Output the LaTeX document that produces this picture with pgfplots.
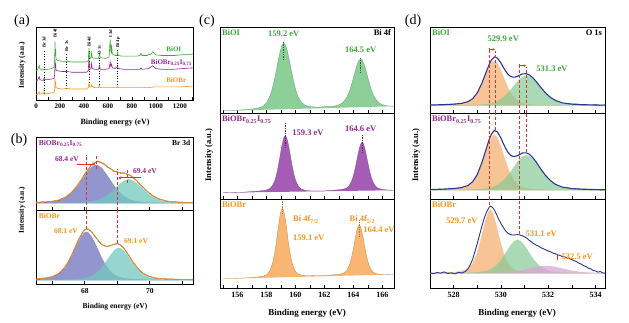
\documentclass[border=0pt]{standalone}
\usepackage{pgfplots}
\pgfplotsset{compat=1.18}
\usepackage{fontspec}
\setmainfont{Liberation Serif}
\usetikzlibrary{arrows.meta}
\definecolor{cgreen}{HTML}{3AAA35}
\definecolor{cpurple}{HTML}{92278F}
\definecolor{corange}{HTML}{F7941D}
\definecolor{gfill}{HTML}{8CCF98}
\definecolor{pfill}{HTML}{A45CB4}
\definecolor{ofill}{HTML}{F9B672}
\definecolor{bblue}{HTML}{6E72BD}
\definecolor{bteal}{HTML}{72C9BF}
\definecolor{dorange}{HTML}{F5B57A}
\definecolor{dgreen}{HTML}{86C995}
\definecolor{dpink}{HTML}{D9A5D8}
\definecolor{navy}{HTML}{2B3590}
\definecolor{cred}{HTML}{E8302A}
\definecolor{benv}{HTML}{E88A2E}
\definecolor{rawteal}{HTML}{3A9A9A}
\newcommand{\fs}[1]{\fontsize{#1}{#1}\selectfont}
\tikzset{rdash/.style={cred, dashed, dash pattern=on 3pt off 2pt, line width=0.8pt}}
\pgfplotsset{
  base/.style={scale only axis, anchor=south west, ymin=0, ymax=1, ytick=\empty,
    axis line style={line width=0.7pt},
    tick align=inside, xtick pos=left,
    major tick length=2.5pt, minor tick length=2.5pt,
    tick style={black, line width=0.6pt},
    /pgf/number format/assume math mode=true,
    /pgf/number format/1000 sep={},
    xticklabel style={font=\bfseries\fs{8}, yshift=-0.5pt}},
  nolab/.style={xticklabels={}},
  cax/.style={base, width=174pt, xmin=154.8, xmax=166.8, xtick={156,158,...,166}, minor xtick={155,157,...,165}},
  dax/.style={base, width=175pt, xmin=527, xmax=534.4, xtick={528,530,532,534}, minor xtick={529,531,533}},
  bax/.style={base, width=157pt, xmin=66.5, xmax=71.33, xtick={68,70}, minor xtick={67,69,71}, xticklabel style={font=\bfseries\fs{7.5}}},
}
\begin{document}
\begin{tikzpicture}

% ---------- panel labels ----------
\node[font=\fs{14}] at (22pt,302pt) {(a)};
\node[font=\fs{14}] at (19pt,183pt) {(b)};
\node[font=\fs{14}] at (207pt,302pt) {(c)};
\node[font=\fs{14}] at (413pt,302pt) {(d)};
\node[rotate=90, font=\bfseries\fs{7.5}] at (22pt,258pt) {Intensity (a.u.)};
\node[rotate=90, font=\bfseries\fs{7.5}] at (22pt,113pt) {Intensity (a.u.)};
\node[rotate=90, font=\bfseries\fs{8.5}] at (209pt,168pt) {Intensity (a.u.)};
\node[rotate=90, font=\bfseries\fs{8.5}] at (416pt,168pt) {Intensity (a.u.)};
\node[font=\bfseries\fs{8}] at (115pt,200pt) {Binding energy (eV)};
\node[font=\bfseries\fs{7.5}] at (115pt,16pt) {Binding energy (eV)};
\node[font=\bfseries\fs{9}] at (307pt,10pt) {Binding energy (eV)};
\node[font=\bfseries\fs{9}] at (517pt,10pt) {Binding energy (eV)};

% ---------- (a) survey ----------
\begin{axis}[base, at={(36pt,223pt)}, width=157pt, height=73pt,
  xmin=0, xmax=1310, xtick={0,200,...,1200}, minor xtick={100,300,...,1300},
  xticklabel style={font=\bfseries\fs{7}}]
\draw[dotted, line width=0.6pt] (axis cs:68,0.09) -- (axis cs:68,0.69);
\draw[dotted, line width=0.6pt] (axis cs:256,0.16) -- (axis cs:256,0.64);
\draw[dotted, line width=0.6pt] (axis cs:442,0.24) -- (axis cs:442,0.68);
\draw[dotted, line width=0.6pt] (axis cs:530,0.18) -- (axis cs:530,0.58);
\draw[dotted, line width=0.6pt] (axis cs:680,0.18) -- (axis cs:680,0.69);
\addplot[corange, line width=0.6pt] coordinates {(0,.07) (12,.08) (22,.10) (27,.11) (32,.08) (62,.09) (68,.12) (74,.09) (100,.09) (140,.10) (152,.11) (156,.15) (159,.29) (161,.20) (164,.25) (167,.17) (180,.16) (220,.15) (256,.16) (300,.15) (360,.15) (420,.15) (436,.17) (442,.24) (447,.18) (458,.18) (464,.21) (469,.18) (490,.17) (522,.17) (530,.20) (536,.17) (600,.17) (676,.17) (680,.19) (686,.17) (760,.17) (840,.17) (940,.17) (1000,.18) (1100,.18) (1200,.18) (1310,.19)};
\addplot[cpurple, line width=0.6pt] coordinates {(0,.26) (12,.27) (22,.30) (27,.32) (32,.28) (50,.27) (62,.27) (68,.30) (74,.28) (100,.28) (140,.29) (152,.30) (156,.36) (159,.55) (161,.44) (164,.50) (167,.41) (180,.40) (220,.39) (260,.39) (300,.38) (360,.38) (420,.38) (436,.40) (442,.58) (447,.44) (458,.43) (464,.50) (469,.43) (490,.42) (522,.42) (530,.47) (536,.42) (580,.42) (610,.43) (619,.52) (624,.46) (631,.49) (637,.44) (660,.43) (680,.46) (686,.43) (740,.42) (800,.42) (868,.42) (876,.44) (884,.42) (940,.43) (972,.47) (985,.45) (1000,.43) (1060,.42) (1140,.42) (1220,.43) (1310,.44)};
\addplot[cgreen, line width=0.6pt] coordinates {(0,.40) (12,.41) (22,.45) (27,.47) (32,.43) (50,.41) (68,.42) (100,.42) (130,.43) (150,.45) (155,.52) (159,.80) (161,.60) (164,.70) (167,.56) (180,.54) (220,.53) (260,.53) (300,.52) (360,.52) (420,.52) (436,.54) (442,.71) (447,.58) (458,.57) (464,.65) (469,.58) (490,.57) (522,.57) (530,.64) (536,.58) (580,.57) (610,.59) (619,.83) (624,.67) (628,.65) (631,.76) (637,.63) (660,.61) (676,.61) (680,.65) (686,.61) (720,.60) (780,.60) (840,.60) (868,.61) (876,.64) (884,.61) (930,.61) (940,.63) (950,.62) (962,.63) (972,.66) (982,.65) (995,.62) (1040,.61) (1100,.61) (1160,.61) (1220,.62) (1270,.62) (1310,.63)};
\node[rotate=90, anchor=west, font=\bfseries\fs{4.5}, inner sep=0.5pt] at (axis cs:68,0.71) {Br 3d};
\node[rotate=90, anchor=west, font=\bfseries\fs{4.5}, inner sep=0.5pt] at (axis cs:159,0.84) {Bi 4f};
\node[rotate=90, anchor=west, font=\bfseries\fs{4.5}, inner sep=0.5pt] at (axis cs:256,0.66) {Br 3s};
\node[rotate=90, anchor=west, font=\bfseries\fs{4.5}, inner sep=0.5pt] at (axis cs:442,0.72) {Bi 4d};
\node[rotate=90, anchor=west, font=\bfseries\fs{4.5}, inner sep=0.5pt] at (axis cs:530,0.62) {O 1s};
\node[rotate=90, anchor=west, font=\bfseries\fs{4.5}, inner sep=0.5pt] at (axis cs:622,0.85) {I 3d};
\node[rotate=90, anchor=west, font=\bfseries\fs{4.5}, inner sep=0.5pt] at (axis cs:684,0.71) {Bi 4p};
\node[font=\bfseries\fs{7}, text=cgreen] at (axis cs:1150,0.70) {BiOI};
\node[font=\bfseries\fs{7}, text=cpurple] at (axis cs:1130,0.51) {BiOBr\textsubscript{0.25}I\textsubscript{0.75}};
\node[font=\bfseries\fs{7}, text=corange] at (axis cs:1170,0.27) {BiOBr};
\end{axis}

% ---------- (b) top ----------
\begin{axis}[bax, nolab, at={(36pt,113pt)}, height=73pt]
\addplot[draw=none, fill=bblue, fill opacity=0.75] coordinates {(66.5,.09) (66.5,.102) (66.8,.107) (67.0,.114) (67.2,.131) (67.4,.166) (67.6,.233) (67.8,.339) (67.9,.405) (68.0,.473) (68.1,.535) (68.2,.588) (68.3,.616) (68.4,.616) (68.5,.588) (68.6,.535) (68.7,.473) (68.8,.405) (68.9,.339) (69.0,.281) (69.1,.233) (69.2,.194) (69.3,.166) (69.4,.145) (69.5,.131) (69.6,.121) (69.7,.114) (69.8,.110) (70.0,.105) (70.2,.102) (70.4,.100) (70.6,.098) (70.8,.097) (71.0,.096) (71.33,.095) (71.33,.09)};
\addplot[draw=none, fill=bteal, fill opacity=0.75] coordinates {(66.5,.09) (66.5,.093) (66.8,.094) (67.0,.095) (67.2,.096) (67.4,.097) (67.6,.098) (67.8,.101) (67.9,.103) (68.0,.105) (68.1,.109) (68.2,.115) (68.3,.124) (68.4,.137) (68.5,.155) (68.6,.179) (68.7,.209) (68.8,.245) (68.9,.286) (69.0,.328) (69.1,.367) (69.2,.400) (69.3,.418) (69.4,.418) (69.5,.400) (69.6,.367) (69.7,.328) (69.8,.286) (70.0,.209) (70.2,.155) (70.4,.124) (70.6,.109) (70.8,.103) (71.0,.099) (71.33,.097) (71.33,.09)};
\addplot[black!75, line width=0.5pt] coordinates {(66.5,.112) (66.6,.098) (66.7,.115) (66.8,.104) (66.9,.121) (67.0,.113) (67.1,.130) (67.2,.129) (67.3,.158) (67.4,.170) (67.5,.205) (67.6,.246) (67.7,.290) (67.8,.356) (67.9,.412) (68.0,.495) (68.1,.548) (68.2,.620) (68.3,.645) (68.4,.672) (68.5,.648) (68.6,.630) (68.7,.585) (68.8,.566) (68.9,.528) (69.0,.524) (69.1,.503) (69.2,.510) (69.3,.488) (69.4,.478) (69.5,.436) (69.6,.404) (69.7,.346) (69.8,.311) (69.9,.262) (70.0,.228) (70.1,.190) (70.2,.170) (70.3,.145) (70.4,.138) (70.5,.120) (70.6,.119) (70.7,.108) (70.8,.113) (70.9,.103) (71.0,.108) (71.1,.099) (71.2,.106) (71.33,.101)};
\addplot[benv, line width=0.9pt] coordinates {(66.5,.105) (66.8,.111) (67.0,.119) (67.2,.137) (67.4,.173) (67.6,.241) (67.8,.350) (67.9,.418) (68.0,.488) (68.1,.554) (68.2,.613) (68.3,.650) (68.4,.663) (68.5,.653) (68.6,.624) (68.7,.592) (68.8,.560) (68.9,.535) (69.0,.519) (69.1,.510) (69.2,.504) (69.3,.494) (69.4,.473) (69.5,.441) (69.6,.398) (69.7,.352) (69.8,.306) (70.0,.224) (70.2,.167) (70.4,.134) (70.6,.117) (70.8,.110) (71.0,.105) (71.33,.102)};
\draw[rdash] (axis cs:68.05,0) -- (axis cs:68.05,0.76);
\draw[rdash] (axis cs:68.35,0.56) -- (axis cs:68.35,0.76);
\draw[rdash] (axis cs:69.0,0) -- (axis cs:69.0,0.56);
\draw[rdash] (axis cs:69.3,0.37) -- (axis cs:69.3,0.57);
\draw[cred, line width=0.8pt, -{Stealth[length=3pt,width=3pt]}] (axis cs:67.75,0.63) -- (axis cs:68.33,0.63);
\draw[cred, line width=0.8pt, -{Stealth[length=3pt,width=3pt]}] (axis cs:69.72,0.44) -- (axis cs:69.03,0.44);
\node[font=\bfseries\fs{7.5}, text=cpurple, anchor=north west, inner sep=1pt] at (rel axis cs:0.01,0.97) {BiOBr\textsubscript{0.25}I\textsubscript{0.75}};
\node[font=\bfseries\fs{7.5}, anchor=north east, inner sep=1pt] at (rel axis cs:0.99,0.97) {Br 3d};
\node[font=\bfseries\fs{7.5}, text=cpurple] at (axis cs:67.45,0.70) {68.4 eV};
\node[font=\bfseries\fs{7.5}, text=cpurple] at (axis cs:69.85,0.53) {69.4 eV};
\end{axis}

% ---------- (b) bottom ----------
\begin{axis}[bax, at={(36pt,39pt)}, height=74pt]
\addplot[draw=none, fill=bblue, fill opacity=0.75] coordinates {(66.5,.05) (66.5,.066) (66.8,.075) (67.0,.092) (67.2,.134) (67.4,.224) (67.5,.294) (67.6,.380) (67.7,.477) (67.8,.573) (67.9,.653) (68.0,.703) (68.1,.703) (68.2,.653) (68.3,.573) (68.4,.477) (68.5,.380) (68.6,.294) (68.7,.224) (68.8,.171) (68.9,.134) (69.0,.108) (69.1,.092) (69.2,.081) (69.3,.075) (69.4,.070) (69.5,.068) (69.6,.066) (69.7,.064) (69.8,.062) (70.0,.060) (70.2,.058) (70.4,.057) (70.7,.056) (71.0,.055) (71.33,.054) (71.33,.05)};
\addplot[draw=none, fill=bteal, fill opacity=0.75] coordinates {(66.5,.05) (66.5,.054) (66.8,.055) (67.0,.056) (67.2,.057) (67.4,.059) (67.5,.061) (67.6,.062) (67.7,.064) (67.8,.067) (67.9,.071) (68.0,.078) (68.1,.089) (68.2,.106) (68.3,.131) (68.4,.166) (68.5,.213) (68.6,.270) (68.7,.335) (68.8,.399) (68.9,.452) (69.0,.486) (69.1,.486) (69.2,.452) (69.3,.399) (69.4,.335) (69.5,.270) (69.6,.213) (69.7,.166) (69.8,.131) (70.0,.089) (70.2,.071) (70.4,.064) (70.7,.059) (71.0,.057) (71.33,.055) (71.33,.05)};
\addplot[black!75, line width=0.5pt] coordinates {(66.5,.074) (66.6,.066) (66.7,.081) (66.8,.078) (66.9,.092) (67.0,.096) (67.1,.122) (67.2,.138) (67.3,.185) (67.4,.236) (67.5,.300) (67.6,.396) (67.7,.487) (67.8,.594) (67.9,.669) (68.0,.735) (68.1,.738) (68.2,.713) (68.3,.650) (68.4,.597) (68.5,.540) (68.6,.518) (68.7,.505) (68.8,.524) (68.9,.533) (69.0,.548) (69.1,.524) (69.2,.487) (69.3,.420) (69.4,.358) (69.5,.284) (69.6,.232) (69.7,.176) (69.8,.146) (69.9,.118) (70.0,.101) (70.2,.076) (70.4,.073) (70.5,.064) (70.7,.067) (70.9,.060) (71.1,.063) (71.33,.058)};
\addplot[benv, line width=0.9pt] coordinates {(66.5,.070) (66.8,.080) (67.0,.098) (67.2,.141) (67.4,.233) (67.5,.305) (67.6,.392) (67.7,.491) (67.8,.590) (67.9,.674) (68.0,.731) (68.1,.742) (68.2,.709) (68.3,.654) (68.4,.593) (68.5,.543) (68.6,.514) (68.7,.509) (68.8,.520) (68.9,.536) (69.0,.544) (69.1,.528) (69.2,.483) (69.3,.424) (69.4,.355) (69.5,.288) (69.6,.229) (69.7,.180) (69.8,.143) (70.0,.099) (70.2,.079) (70.4,.071) (70.7,.065) (71.0,.062) (71.33,.059)};
\draw[rdash] (axis cs:68.05,0.74) -- (axis cs:68.05,1);
\draw[rdash] (axis cs:69.0,0.55) -- (axis cs:69.0,1);
\node[font=\bfseries\fs{7.5}, text=corange, anchor=north west, inner sep=1pt] at (rel axis cs:0.01,0.97) {BiOBr};
\node[font=\bfseries\fs{7.5}, text=corange] at (axis cs:67.42,0.71) {68.1 eV};
\node[font=\bfseries\fs{7.5}, text=corange] at (axis cs:69.58,0.58) {69.1 eV};
\end{axis}

% ---------- (c) top ----------
\begin{axis}[cax, nolab, at={(220pt,210pt)}, height=86pt]
\addplot[fill=gfill, draw=gfill!75!black, line width=0.3pt] coordinates {(155,.025) (156,.033) (156.8,.043) (157.4,.056) (157.76,.078) (158.0,.115) (158.24,.197) (158.36,.257) (158.48,.334) (158.6,.426) (158.72,.528) (158.84,.631) (158.96,.722) (159.08,.787) (159.2,.811) (159.32,.787) (159.44,.722) (159.56,.631) (159.68,.528) (159.8,.426) (159.92,.334) (160.04,.257) (160.16,.197) (160.4,.126) (160.64,.092) (161.0,.074) (161.6,.067) (162.1,.075) (162.7,.080) (163.06,.099) (163.3,.125) (163.54,.181) (163.66,.224) (163.78,.280) (163.9,.347) (164.02,.421) (164.14,.496) (164.26,.563) (164.38,.610) (164.5,.628) (164.62,.610) (164.74,.563) (164.86,.496) (164.98,.421) (165.1,.347) (165.22,.280) (165.34,.224) (165.46,.181) (165.7,.125) (165.94,.099) (166.3,.084) (166.8,.078)};
\draw[densely dotted, line width=0.7pt, cgreen!60!black] (axis cs:159.2,0.62) -- (axis cs:159.2,0.82);
\draw[densely dotted, line width=0.7pt, cgreen!60!black] (axis cs:164.5,0.47) -- (axis cs:164.5,0.64);
\node[font=\bfseries\fs{8.5}, text=cgreen, anchor=north west, inner sep=1pt] at (rel axis cs:0.005,0.98) {BiOI};
\node[font=\bfseries\fs{8.5}, anchor=north east, inner sep=1pt] at (rel axis cs:0.99,0.98) {Bi 4f};
\node[font=\bfseries\fs{8.5}, text=cgreen] at (axis cs:159.2,0.92) {159.2 eV};
\node[font=\bfseries\fs{8.5}, text=cgreen] at (axis cs:164.5,0.74) {164.5 eV};
\end{axis}

% ---------- (c) middle ----------
\begin{axis}[cax, nolab, at={(220pt,124pt)}, height=86pt]
\addplot[fill=pfill, draw=pfill!75!black, line width=0.3pt] coordinates {(155,.073) (156.5,.080) (157.5,.093) (157.95,.101) (158.22,.118) (158.4,.149) (158.58,.214) (158.67,.265) (158.76,.331) (158.85,.409) (158.94,.495) (159.03,.583) (159.12,.661) (159.21,.716) (159.3,.736) (159.39,.716) (159.48,.661) (159.57,.583) (159.66,.495) (159.75,.409) (159.84,.331) (159.93,.265) (160.02,.214) (160.2,.149) (160.38,.118) (160.65,.101) (161.1,.093) (162.0,.094) (162.8,.104) (163.25,.112) (163.52,.126) (163.7,.153) (163.88,.209) (163.97,.253) (164.06,.309) (164.15,.377) (164.24,.451) (164.33,.527) (164.42,.594) (164.51,.641) (164.6,.659) (164.69,.641) (164.78,.594) (164.87,.527) (164.96,.451) (165.05,.377) (165.14,.309) (165.23,.253) (165.32,.209) (165.5,.153) (165.68,.126) (165.95,.112) (166.4,.104) (166.8,.102)};
\draw[densely dotted, line width=0.7pt, cpurple!70!black] (axis cs:159.3,0.60) -- (axis cs:159.3,0.88);
\draw[densely dotted, line width=0.7pt, cpurple!70!black] (axis cs:164.6,0.54) -- (axis cs:164.6,0.74);
\node[font=\bfseries\fs{8.5}, text=cpurple, anchor=north west, inner sep=1pt] at (rel axis cs:0.005,0.98) {BiOBr\textsubscript{0.25}I\textsubscript{0.75}};
\node[font=\bfseries\fs{8.5}, text=cpurple, anchor=west] at (axis cs:159.55,0.77) {159.3 eV};
\node[font=\bfseries\fs{8.5}, text=cpurple] at (axis cs:164.5,0.82) {164.6 eV};
\end{axis}

% ---------- (c) bottom ----------
\begin{axis}[cax, at={(220pt,35pt)}, height=89pt]
\addplot[fill=ofill, draw=ofill!75!black, line width=0.3pt] coordinates {(155,.103) (156.3,.111) (157.4,.124) (157.83,.136) (158.08,.156) (158.25,.198) (158.42,.275) (158.5,.336) (158.59,.414) (158.68,.507) (158.76,.610) (158.85,.714) (158.93,.807) (159.02,.873) (159.1,.897) (159.18,.873) (159.27,.807) (159.36,.714) (159.44,.610) (159.52,.507) (159.61,.414) (159.7,.336) (159.78,.275) (159.95,.198) (160.12,.165) (160.38,.146) (160.8,.138) (162.0,.141) (162.7,.149) (163.13,.157) (163.38,.171) (163.55,.198) (163.72,.255) (163.8,.299) (163.89,.356) (163.98,.424) (164.06,.499) (164.15,.576) (164.23,.643) (164.32,.691) (164.4,.709) (164.49,.691) (164.57,.643) (164.66,.576) (164.74,.499) (164.83,.424) (164.91,.356) (165.0,.299) (165.08,.255) (165.25,.198) (165.42,.171) (165.68,.157) (166.1,.149) (166.8,.152)};
\draw[densely dotted, line width=0.7pt, corange!80!black] (axis cs:159.1,0.84) -- (axis cs:159.1,0.99);
\draw[densely dotted, line width=0.7pt, corange!80!black] (axis cs:164.4,0.58) -- (axis cs:164.4,0.76);
\node[font=\bfseries\fs{8.5}, text=corange, anchor=north west, inner sep=1pt] at (rel axis cs:0.005,0.98) {BiOBr};
\node[font=\bfseries\fs{8.5}, text=corange, anchor=west] at (axis cs:159.6,0.77) {Bi 4f\textsubscript{7/2}};
\node[font=\bfseries\fs{8.5}, text=corange, anchor=west] at (axis cs:159.6,0.56) {159.1 eV};
\node[font=\bfseries\fs{8.5}, text=corange, anchor=west] at (axis cs:163.5,0.77) {Bi 4f\textsubscript{5/2}};
\node[font=\bfseries\fs{8.5}, text=corange, anchor=west] at (axis cs:164.45,0.66) {164.4 eV};
\end{axis}

% ---------- (d) top ----------
\begin{axis}[dax, nolab, at={(430pt,210pt)}, height=86pt]
\addplot[draw=none, fill=dorange, fill opacity=0.8] coordinates {(527.0,.085) (527.0,.090) (527.5,.092) (528.0,.098) (528.3,.104) (528.6,.123) (528.8,.156) (529.0,.224) (529.2,.335) (529.4,.473) (529.5,.537) (529.6,.586) (529.72,.610) (529.85,.582) (530.0,.500) (530.1,.430) (530.2,.361) (530.3,.297) (530.4,.243) (530.5,.199) (530.6,.167) (530.7,.143) (530.8,.128) (530.9,.117) (531.07,.107) (531.2,.102) (531.35,.099) (531.5,.097) (531.7,.094) (531.9,.093) (532.1,.092) (532.3,.091) (532.6,.090) (533.0,.089) (533.5,.088) (534.0,.087) (534.4,.087) (534.4,.085)};
\addplot[draw=none, fill=dgreen, fill opacity=0.7] coordinates {(527.0,.085) (527.0,.088) (527.5,.089) (528.0,.090) (528.3,.091) (528.6,.093) (528.8,.094) (529.0,.096) (529.2,.100) (529.4,.105) (529.5,.110) (529.6,.116) (529.72,.126) (529.85,.141) (530.0,.166) (530.1,.186) (530.2,.210) (530.3,.238) (530.4,.269) (530.5,.303) (530.6,.336) (530.7,.369) (530.8,.397) (530.9,.422) (531.07,.435) (531.2,.426) (531.35,.395) (531.5,.350) (531.7,.283) (531.9,.221) (532.1,.173) (532.3,.140) (532.6,.112) (533.0,.099) (533.5,.093) (534.0,.091) (534.4,.089) (534.4,.085)};
\addplot[rawteal, line width=0.6pt] coordinates {(527.0,.095) (527.2,.089) (527.4,.098) (527.6,.092) (527.8,.100) (528.0,.101) (528.2,.108) (528.4,.111)};
\addplot[rawteal, line width=0.6pt] coordinates {(532.8,.112) (533.0,.101) (533.2,.105) (533.4,.092) (533.6,.100) (533.8,.090) (534.0,.098) (534.2,.088) (534.4,.096)};
\addplot[navy, line width=1.1pt] coordinates {(527.0,.093) (527.5,.096) (528.0,.103) (528.3,.110) (528.6,.131) (528.8,.165) (529.0,.235) (529.2,.350) (529.4,.493) (529.5,.562) (529.6,.617) (529.72,.651) (529.85,.638) (530.0,.581) (530.1,.531) (530.2,.486) (530.3,.450) (530.4,.427) (530.5,.417) (530.6,.418) (530.7,.427) (530.8,.440) (530.9,.454) (531.07,.457) (531.2,.443) (531.35,.409) (531.5,.362) (531.7,.292) (531.9,.229) (532.1,.180) (532.3,.146) (532.6,.117) (533.0,.103) (533.5,.096) (534.0,.093) (534.4,.091)};
\draw[rdash] (axis cs:529.5,0) -- (axis cs:529.5,0.72);
\draw[rdash] (axis cs:529.75,0) -- (axis cs:529.75,0.72);
\draw[rdash] (axis cs:530.76,0) -- (axis cs:530.76,0.53);
\draw[rdash] (axis cs:531.07,0) -- (axis cs:531.07,0.53);
\draw[cred, line width=0.7pt, {Bar[width=3pt]}-{Stealth[length=2.5pt,width=2.5pt]}] (axis cs:529.5,0.74) -- (axis cs:529.75,0.74);
\draw[cred, line width=0.7pt, {Bar[width=3pt]}-{Stealth[length=2.5pt,width=2.5pt]}] (axis cs:530.76,0.55) -- (axis cs:531.07,0.55);
\node[font=\bfseries\fs{8.5}, text=cgreen, anchor=north west, inner sep=1pt] at (rel axis cs:0.005,0.98) {BiOI};
\node[font=\bfseries\fs{8.5}, anchor=north east, inner sep=1pt] at (rel axis cs:0.99,0.98) {O 1s};
\node[font=\bfseries\fs{8.5}, text=cgreen] at (axis cs:530.1,0.86) {529.9 eV};
\node[font=\bfseries\fs{8.5}, text=cgreen, anchor=west] at (axis cs:531.35,0.52) {531.3 eV};
\end{axis}

% ---------- (d) middle ----------
\begin{axis}[dax, nolab, at={(430pt,124pt)}, height=86pt]
\addplot[draw=none, fill=dorange, fill opacity=0.8] coordinates {(527.0,.10) (527.0,.106) (527.5,.109) (528.0,.116) (528.3,.124) (528.6,.147) (528.8,.188) (529.0,.272) (529.2,.410) (529.4,.580) (529.5,.660) (529.6,.720) (529.72,.750) (529.85,.715) (530.0,.614) (530.1,.527) (530.2,.442) (530.3,.362) (530.4,.296) (530.5,.241) (530.6,.202) (530.7,.172) (530.8,.153) (530.9,.140) (531.07,.127) (531.2,.121) (531.35,.117) (531.5,.115) (531.7,.111) (531.9,.110) (532.1,.109) (532.3,.107) (532.6,.106) (533.0,.105) (533.5,.104) (534.0,.102) (534.4,.102) (534.4,.10)};
\addplot[draw=none, fill=dgreen, fill opacity=0.7] coordinates {(527.0,.10) (527.0,.104) (527.5,.105) (528.0,.106) (528.3,.107) (528.6,.109) (528.8,.111) (529.0,.113) (529.2,.118) (529.4,.123) (529.5,.129) (529.6,.136) (529.72,.148) (529.85,.166) (530.0,.195) (530.1,.218) (530.2,.246) (530.3,.279) (530.4,.315) (530.5,.355) (530.6,.394) (530.7,.433) (530.8,.465) (530.9,.495) (531.07,.510) (531.2,.499) (531.35,.463) (531.5,.410) (531.7,.332) (531.9,.259) (532.1,.203) (532.3,.164) (532.6,.132) (533.0,.116) (533.5,.109) (534.0,.107) (534.4,.105) (534.4,.10)};
\addplot[rawteal, line width=0.6pt] coordinates {(527.0,.112) (527.2,.104) (527.4,.115) (527.6,.108) (527.8,.117) (528.0,.118) (528.2,.127) (528.4,.133)};
\addplot[rawteal, line width=0.6pt] coordinates {(532.8,.132) (533.0,.118) (533.2,.122) (533.4,.110) (533.6,.118) (533.8,.106) (534.0,.114) (534.2,.104) (534.4,.112)};
\addplot[navy, line width=1.1pt] coordinates {(527.0,.110) (527.5,.114) (528.0,.122) (528.3,.131) (528.6,.156) (528.8,.199) (529.0,.285) (529.2,.428) (529.4,.603) (529.5,.689) (529.6,.756) (529.72,.798) (529.85,.781) (530.0,.709) (530.1,.645) (530.2,.588) (530.3,.541) (530.4,.511) (530.5,.496) (530.6,.496) (530.7,.505) (530.8,.518) (530.9,.535) (531.07,.537) (531.2,.520) (531.35,.480) (531.5,.425) (531.7,.343) (531.9,.269) (532.1,.212) (532.3,.171) (532.6,.138) (533.0,.121) (533.5,.113) (534.0,.109) (534.4,.107)};
\draw[rdash] (axis cs:529.5,0) -- (axis cs:529.5,1);
\draw[rdash] (axis cs:529.75,0.80) -- (axis cs:529.75,1);
\draw[rdash] (axis cs:530.76,0) -- (axis cs:530.76,1);
\draw[rdash] (axis cs:531.07,0.55) -- (axis cs:531.07,1);
\node[font=\bfseries\fs{8.5}, text=cpurple, anchor=north west, inner sep=1pt] at (rel axis cs:0.005,0.98) {BiOBr\textsubscript{0.25}I\textsubscript{0.75}};
\end{axis}

% ---------- (d) bottom ----------
\begin{axis}[dax, at={(430pt,35pt)}, height=89pt]
\addplot[draw=none, fill=dorange, fill opacity=0.8] coordinates {(527.0,.165) (527.0,.171) (527.5,.174) (528.0,.180) (528.3,.189) (528.6,.217) (528.8,.276) (529.0,.405) (529.15,.552) (529.3,.722) (529.45,.854) (529.55,.885) (529.65,.854) (529.8,.722) (529.95,.552) (530.1,.405) (530.25,.302) (530.4,.240) (530.55,.209) (530.7,.195) (530.85,.187) (531.0,.182) (531.2,.178) (531.4,.176) (531.6,.174) (531.9,.172) (532.2,.170) (532.5,.170) (532.8,.169) (533.1,.169) (533.5,.168) (534.0,.167) (534.4,.167) (534.4,.165)};
\addplot[draw=none, fill=dgreen, fill opacity=0.7] coordinates {(527.0,.165) (527.0,.168) (527.5,.169) (528.0,.170) (528.3,.172) (528.6,.174) (528.8,.175) (529.0,.179) (529.15,.182) (529.3,.189) (529.45,.200) (529.55,.210) (529.65,.225) (529.8,.257) (529.95,.300) (530.1,.355) (530.25,.418) (530.4,.479) (530.55,.527) (530.7,.545) (530.85,.527) (531.0,.479) (531.2,.397) (531.4,.317) (531.6,.257) (531.9,.205) (532.2,.184) (532.5,.177) (532.8,.174) (533.1,.172) (533.5,.170) (534.0,.169) (534.4,.168) (534.4,.165)};
\addplot[draw=none, fill=dpink, fill opacity=0.75] coordinates {(527.0,.165) (527.0,.166) (528.0,.166) (528.6,.167) (529.0,.167) (529.3,.168) (529.55,.169) (529.8,.170) (530.1,.174) (530.4,.181) (530.7,.191) (531.0,.208) (531.2,.220) (531.4,.232) (531.6,.243) (531.9,.250) (532.2,.243) (532.5,.226) (532.8,.208) (533.1,.191) (533.5,.178) (534.0,.170) (534.4,.168) (534.4,.165)};
\addplot[navy, line width=0.9pt] coordinates {(527.0,.172) (527.15,.160) (527.3,.175) (527.45,.166) (527.6,.181) (527.75,.163) (527.9,.170) (528.05,.158) (528.2,.176) (528.35,.168) (528.5,.186) (528.6,.215) (528.7,.260) (528.8,.320) (528.9,.410) (529.0,.500) (529.1,.600) (529.2,.700) (529.3,.790) (529.4,.860) (529.5,.905) (529.55,.920) (529.62,.912) (529.7,.885) (529.8,.835) (529.9,.775) (530.0,.725) (530.1,.680) (530.2,.640) (530.3,.615) (530.4,.600) (530.5,.595) (530.6,.597) (530.7,.600) (530.8,.596) (530.9,.588) (531.0,.575) (531.1,.558) (531.2,.535) (531.3,.515) (531.4,.497) (531.5,.480) (531.6,.468) (531.7,.452) (531.8,.440) (531.9,.428) (532.0,.415) (532.1,.407) (532.2,.392) (532.3,.385) (532.4,.372) (532.5,.366) (532.6,.352) (532.7,.348) (532.8,.335) (532.9,.330) (533.0,.318) (533.1,.305) (533.2,.296) (533.3,.278) (533.4,.268) (533.5,.250) (533.6,.240) (533.7,.222) (533.8,.215) (533.9,.196) (534.0,.192) (534.1,.178) (534.2,.186) (534.3,.170) (534.4,.168)};
\draw[rdash] (axis cs:529.5,0.93) -- (axis cs:529.5,1);
\draw[rdash] (axis cs:530.76,0.61) -- (axis cs:530.76,1);
\draw[cred, line width=0.7pt] (axis cs:532.38,0.31) -- (axis cs:532.38,0.38);
\node[font=\bfseries\fs{8.5}, text=corange, anchor=north west, inner sep=1pt] at (rel axis cs:0.005,0.98) {BiOBr};
\node[font=\bfseries\fs{8.5}, text=corange] at (axis cs:528.35,0.75) {529.7 eV};
\node[font=\bfseries\fs{8.5}, text=corange] at (axis cs:531.7,0.61) {531.1 eV};
\node[font=\bfseries\fs{8.5}, text=corange, anchor=west] at (axis cs:532.42,0.35) {532.5 eV};
\end{axis}
\pgfresetboundingbox
\path[use as bounding box] (0pt,0pt) rectangle (629pt,323pt);
\end{tikzpicture}
\end{document}
